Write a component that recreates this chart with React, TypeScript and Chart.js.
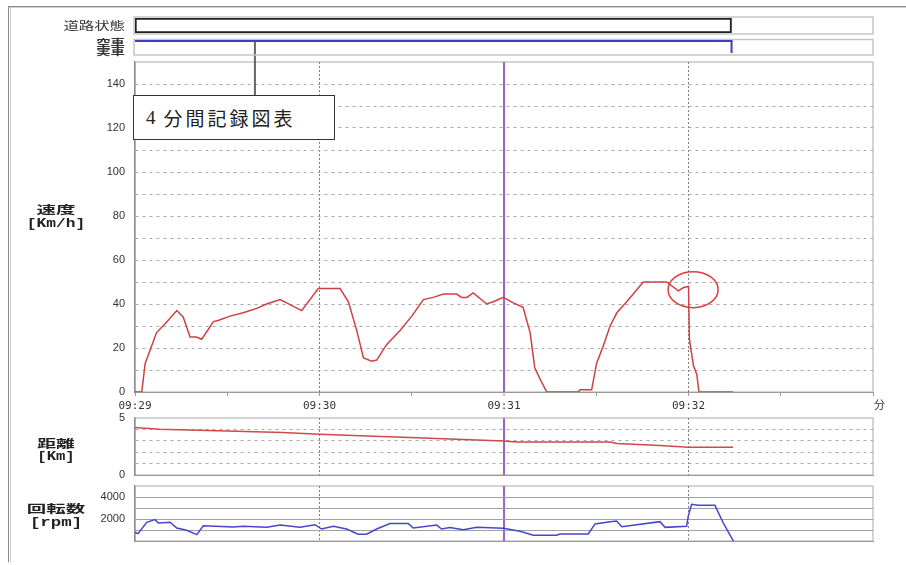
import React, { useEffect, useRef } from 'react';
import { Chart, registerables } from 'chart.js';

Chart.register(...registerables);
Chart.defaults.font.family = "'Liberation Sans', 'Noto Sans CJK JP', sans-serif";

const PAGE_W = 906;
const PAGE_H = 565;
const PLOT_LEFT = 135;
const PLOT_RIGHT_PAD = 33;

// time axis: seconds after 09:29:00
const timeMin = 0;
const timeMax = 240;
const timeStep = 30;
const timeTickValues = [0, 60, 120, 180, 240];
const timeTickLabels = ['09:29', '09:30', '09:31', '09:32', '  分'];
const dottedTimes = [60, 180];
const markerTime = 120;
const cursorTime = 39;

// road state strip
const roadCategories = ['道路状態'];
const roadStart = 0;
const roadEnd = 194;

// occupied / vacant strip
const occTime = [0, 194, 194];
const occValue = [1, 1, 0];

// speed [km/h]
const speedTime = [0, 2.2, 3.3, 4.9, 7, 9.8, 13.6, 15.7, 17.9, 20, 21.7, 25.5, 27, 30.9, 35.2, 39.6, 42.8, 47.2, 49.3, 54.2, 59.6, 66.7, 69.4, 72.1, 74.3, 77, 78.6, 81.8, 86.2, 90, 93.8, 97, 100.3, 104.6, 106.2, 107.9, 110, 114.4, 116.5, 119.8, 123, 126.2, 128.5, 130, 131.7, 133.9, 144.2, 144.7, 148.5, 150.1, 152.3, 154.5, 156.7, 159.9, 165.3, 172.9, 176.7, 178.4, 180, 180.3, 181.6, 182.7, 183.4, 194.5];
const speedValue = [0, 0, 13, 19, 27, 31, 37, 34, 25, 25, 24, 32, 32.5, 34.5, 36, 38, 40, 42, 40.5, 37, 47, 47, 41, 28, 15.5, 14, 14.5, 21.5, 28, 34.5, 42, 43, 44.5, 44.5, 43, 43, 45, 40, 41, 43, 40.5, 38.5, 27, 11, 6, 0, 0, 1, 1, 13, 21, 30, 36, 41, 50, 50, 46, 47.5, 48, 24, 12, 8, 0, 0];
const speedTickLabels = [0, 20, 40, 60, 80, 100, 120, 140];
const highlightTime = 181.5;
const highlightSpeed = 46.5;

// distance [km]
const distTime = [0, 8, 30, 48, 60, 75.5, 91.6, 102.4, 119.8, 124.1, 154.5, 156.7, 170.7, 180, 194.5];
const distValue = [4.17, 4.02, 3.87, 3.72, 3.57, 3.42, 3.27, 3.15, 2.98, 2.89, 2.89, 2.77, 2.59, 2.44, 2.44];
const distTickLabels = [0, 5];

// engine rpm
const rpmTime = [0, 1, 3.8, 6.5, 7.6, 11.4, 13.6, 16.8, 20.1, 22.2, 32, 35.2, 42.8, 47.2, 53.7, 58.5, 60.7, 64.5, 68.8, 72.6, 75.3, 78.6, 82.9, 88.9, 90.5, 98.1, 99.7, 102.4, 106.8, 111.1, 119.8, 125.2, 129.5, 137.1, 138.2, 147.4, 149.6, 154.5, 156.6, 158.3, 170.7, 172.4, 179.4, 179.9, 181, 183.2, 188.6, 191.3, 194.6];
const rpmValue = [790, 670, 1700, 1940, 1640, 1700, 1180, 970, 580, 1390, 1270, 1330, 1240, 1450, 1240, 1480, 1090, 1330, 1090, 610, 610, 1090, 1580, 1580, 1180, 1450, 1090, 1220, 1030, 1240, 1150, 880, 520, 520, 640, 640, 1550, 1760, 1820, 1300, 1760, 1240, 1330, 2240, 3330, 3240, 3240, 1640, 0];
const rpmTickLabels = [2000, 4000];

const TRANSPARENT = 'rgba(0,0,0,0)';
const PURPLE = '#9b62cc';

const toPoints = (xs: number[], ys: number[]) => xs.map((x, i) => ({ x, y: ys[i] }));

const frameBox = (e = { t: 0, b: 0, l: 0, r: 0 }) => ({
  id: 'frameBox',
  beforeDraw(chart: any) {
    const { ctx, chartArea: a } = chart;
    ctx.save();
    ctx.strokeStyle = '#c6c6c6';
    ctx.lineWidth = 1.5;
    ctx.strokeRect(a.left - e.l, a.top - e.t, a.right - a.left + e.l + e.r, a.bottom - a.top + e.t + e.b);
    ctx.restore();
  },
});

const speedOverlay = {
  id: 'speedOverlay',
  afterDraw(chart: any) {
    const { ctx, chartArea: a, scales } = chart;
    const x = scales.x.getPixelForValue(cursorTime);
    ctx.save();
    ctx.strokeStyle = '#666';
    ctx.lineWidth = 2;
    ctx.beginPath();
    ctx.moveTo(x, 4);
    ctx.lineTo(x, a.top + 45);
    ctx.stroke();
    const cx = scales.x.getPixelForValue(highlightTime);
    const cy = scales.y.getPixelForValue(highlightSpeed);
    ctx.strokeStyle = '#e23b3b';
    ctx.lineWidth = 1.5;
    ctx.beginPath();
    ctx.ellipse(cx, cy, 25, 18, 0, 0, Math.PI * 2);
    ctx.stroke();
    ctx.restore();
  },
};

function timeScale(showLabels: boolean) {
  return {
    type: 'linear',
    min: timeMin,
    max: timeMax,
    ticks: {
      stepSize: timeStep,
      display: showLabels,
      autoSkip: false,
      maxRotation: 0,
      minRotation: 0,
      padding: 4,
      color: '#333',
      font: { family: "'DejaVu Sans Mono', 'Noto Sans CJK JP', monospace", size: 11 },
      callback: (v: number) => {
        const i = timeTickValues.indexOf(v);
        return i >= 0 ? timeTickLabels[i] : '';
      },
    },
    grid: {
      drawTicks: showLabels,
      tickLength: 4,
      tickColor: '#999',
      tickWidth: 1,
      color: (c: any) => {
        const v = c.tick?.value;
        if (v === markerTime) return PURPLE;
        if (dottedTimes.includes(v)) return '#808080';
        return TRANSPARENT;
      },
      lineWidth: (c: any) => (c.tick?.value === markerTime ? 2 : 1),
    },
    border: {
      display: true,
      color: '#9a9a9a',
      width: 1,
      dash: (c: any) => (c.tick && dottedTimes.includes(c.tick.value) ? [2, 2] : []),
    },
    afterFit: (s: any) => {
      s.height = showLabels ? 24 : 0;
    },
  };
}

function valueScale(min: number, max: number, step: number, labels: number[], dashed: boolean) {
  return {
    type: 'linear',
    min,
    max,
    ticks: {
      stepSize: step,
      autoSkip: false,
      padding: 10,
      color: '#333',
      font: { size: 11 },
      callback: (v: number) => (labels.includes(v) ? String(v) : ''),
    },
    grid: {
      drawTicks: false,
      lineWidth: 1,
      color: (c: any) => {
        const v = c.tick?.value;
        return v > min && v < max ? (dashed ? '#a8a8a8' : '#a0a0a0') : TRANSPARENT;
      },
    },
    border: {
      color: '#8f8f8f',
      width: 1.5,
      dash: (c: any) => (dashed && c.tick ? [3, 4] : []),
    },
    afterFit: (s: any) => {
      s.width = PLOT_LEFT;
    },
  };
}

const baseOptions = (pad: { top: number; bottom: number }) => ({
  responsive: false,
  animation: false,
  devicePixelRatio: 1,
  events: [],
  layout: { padding: { left: 0, right: PLOT_RIGHT_PAD, top: pad.top, bottom: pad.bottom } },
  plugins: { legend: { display: false }, tooltip: { enabled: false } },
});

const lineSet = (xs: number[], ys: number[], color: string, width = 1.5) => ({
  data: toPoints(xs, ys),
  borderColor: color,
  borderWidth: width,
  pointRadius: 0,
  tension: 0,
  fill: false,
});

function buildSpeed(): any {
  return {
    type: 'line',
    data: { datasets: [lineSet(speedTime, speedValue, '#cf4040')] },
    options: {
      ...baseOptions({ top: 26, bottom: 0 }),
      scales: { x: timeScale(true), y: valueScale(0, 150, 10, speedTickLabels, true) },
    },
    plugins: [frameBox(), speedOverlay],
  };
}

function buildDistance(): any {
  return {
    type: 'line',
    data: { datasets: [lineSet(distTime, distValue, '#d04848')] },
    options: {
      ...baseOptions({ top: 18, bottom: 18 }),
      scales: { x: timeScale(false), y: valueScale(0, 5, 1, distTickLabels, true) },
    },
    plugins: [frameBox()],
  };
}

function buildRpm(): any {
  return {
    type: 'line',
    data: { datasets: [lineSet(rpmTime, rpmValue, '#4646cc')] },
    options: {
      ...baseOptions({ top: 18, bottom: 18 }),
      scales: { x: timeScale(false), y: valueScale(0, 5000, 1000, rpmTickLabels, false) },
    },
    plugins: [frameBox()],
  };
}

function buildRoad(): any {
  return {
    type: 'bar',
    data: {
      labels: roadCategories,
      datasets: [
        {
          data: [[roadStart, roadEnd]],
          backgroundColor: '#ffffff',
          borderColor: '#222222',
          borderWidth: 2,
          borderSkipped: false,
          barPercentage: 1,
          categoryPercentage: 1,
        },
      ],
    },
    options: {
      responsive: false,
      animation: false,
      devicePixelRatio: 1,
      events: [],
      indexAxis: 'y',
      layout: { padding: { left: PLOT_LEFT, right: PLOT_RIGHT_PAD, top: 8, bottom: 7 } },
      plugins: { legend: { display: false }, tooltip: { enabled: false } },
      scales: {
        x: { type: 'linear', min: timeMin, max: timeMax, display: false },
        y: { display: false },
      },
    },
    plugins: [frameBox({ t: 1, b: 1, l: 1, r: 0 })],
  };
}

function buildOccupancy(): any {
  return {
    type: 'line',
    data: { datasets: [{ ...lineSet(occTime, occValue, '#3c3cc8', 2), clip: false }] },
    options: {
      responsive: false,
      animation: false,
      devicePixelRatio: 1,
      events: [],
      layout: { padding: { left: PLOT_LEFT, right: PLOT_RIGHT_PAD, top: 7, bottom: 7 } },
      plugins: { legend: { display: false }, tooltip: { enabled: false } },
      scales: {
        x: { type: 'linear', min: timeMin, max: timeMax, display: false },
        y: { type: 'linear', min: 0, max: 1, display: false },
      },
    },
    plugins: [frameBox({ t: 1.5, b: 2, l: 1, r: 0 })],
  };
}

function ChartCanvas({ top, height, build }: { top: number; height: number; build: () => any }) {
  const ref = useRef<HTMLCanvasElement>(null);
  useEffect(() => {
    const chart = new Chart(ref.current as HTMLCanvasElement, build());
    return () => chart.destroy();
  }, []);
  return (
    <canvas
      ref={ref}
      width={PAGE_W}
      height={height}
      style={{ position: 'absolute', left: 0, top, width: PAGE_W, height }}
    />
  );
}

function LabelLine({ cy, text, mono, sx, sy }: { cy: number; text: string; mono?: boolean; sx: number; sy: number }) {
  return (
    <div
      style={{
        position: 'absolute',
        left: 6,
        top: cy - 7,
        width: 100,
        height: 14,
        lineHeight: '14px',
        textAlign: 'center',
        color: '#222',
        fontWeight: 'bold',
        fontFamily: mono ? "'Liberation Mono', monospace" : "'Noto Sans CJK JP'",
        fontSize: mono ? 12 : 13,
        transform: `scale(${sx}, ${sy})`,
        transformOrigin: 'center',
        whiteSpace: 'nowrap',
      }}
    >
      {text}
    </div>
  );
}

function StripLabel({ cy, text, size, bold, sx }: { cy: number; text: string; size: number; bold?: boolean; sx: number }) {
  return (
    <div
      style={{
        position: 'absolute',
        right: PAGE_W - 125,
        top: cy - 6,
        height: 12,
        lineHeight: '12px',
        fontFamily: "'Noto Sans CJK JP'",
        fontSize: size,
        fontWeight: bold ? 'bold' : 'normal',
        color: '#333',
        transform: `scaleX(${sx})`,
        transformOrigin: 'right center',
        whiteSpace: 'nowrap',
      }}
    >
      {text}
    </div>
  );
}

export default function App() {
  return (
    <div
      style={{
        position: 'fixed',
        left: 0,
        top: 0,
        width: PAGE_W,
        height: PAGE_H,
        background: '#ffffff',
        overflow: 'hidden',
      }}
    >
      {/* window frame */}
      <div style={{ position: 'absolute', left: 8, top: 6, width: 898, height: 0, borderTop: '1px solid #8a8a8a', borderBottom: '1px solid #cfcfcf' }} />
      <div style={{ position: 'absolute', left: 8, top: 7, width: 1, height: 555, borderLeft: '1px solid #8a8a8a', borderRight: '1px solid #cfcfcf' }} />

      <ChartCanvas top={36} height={380} build={buildSpeed} />
      <ChartCanvas top={400} height={93} build={buildDistance} />
      <ChartCanvas top={468} height={91} build={buildRpm} />
      <ChartCanvas top={10} height={30} build={buildRoad} />
      <ChartCanvas top={34} height={26} build={buildOccupancy} />

      {/* strip labels */}
      <StripLabel cy={25} text="道路状態" size={11} sx={1.4} />
      <StripLabel cy={43} text="空車" size={9} bold sx={1.6} />
      <StripLabel cy={51.5} text="実車" size={9} bold sx={1.6} />

      <LabelLine cy={210} text="速度" sx={1.5} sy={0.85} />
      <LabelLine cy={224} text="[Km/h]" mono sx={1.35} sy={1} />
      <LabelLine cy={443.5} text="距離" sx={1.45} sy={0.85} />
      <LabelLine cy={457} text="[Km]" mono sx={1.3} sy={1} />
      <LabelLine cy={509} text="回転数" sx={1.5} sy={0.85} />
      <LabelLine cy={523} text="[rpm]" mono sx={1.45} sy={1} />

      {/* title box */}
      <div
        style={{
          position: 'absolute',
          left: 133,
          top: 95,
          width: 202,
          height: 45,
          boxSizing: 'border-box',
          border: '1px solid #333',
          background: '#ffffff',
          display: 'flex',
          alignItems: 'center',
          paddingLeft: 12,
          color: '#222',
          whiteSpace: 'nowrap',
        }}
      >
        <span style={{ fontFamily: "'Liberation Serif', serif", fontSize: 19 }}>4</span>
        <span style={{ fontFamily: "'Noto Sans CJK JP'", fontSize: 19, letterSpacing: 3, marginLeft: 8 }}>分間記録図表</span>
      </div>
    </div>
  );
}
